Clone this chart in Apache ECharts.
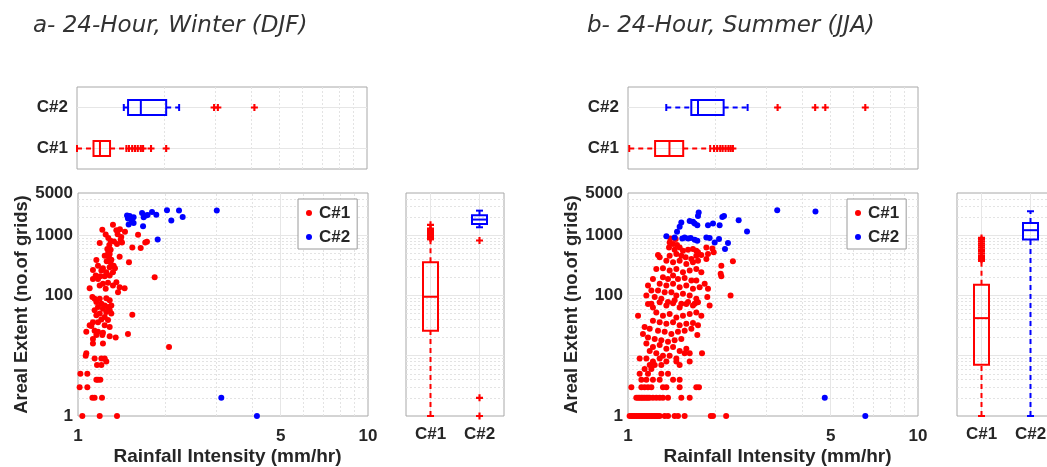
<!DOCTYPE html>
<html><head><meta charset="utf-8">
<script src="https://cdn.jsdelivr.net/npm/echarts@6/dist/echarts.min.js"></script>
<style>html,body{margin:0;padding:0;background:#fff}#c{width:1047px;height:467px}</style>
</head><body><div id="c"></div>
<script>
// ---------------- data ----------------
const categories = ['C#1', 'C#2'];
const panelTitles = ['a- 24-Hour, Winter (DJF)', 'b- 24-Hour, Summer (JJA)'];
const xName = 'Rainfall Intensity (mm/hr)';
const yName = 'Areal Extent (no.of grids)';
const extraXTicks = [5];

// scatter points [rainfall intensity, areal extent]
const winterC1 = [
[1.32,1480],[1.213,1225],[1.356,1209],[1.395,1256],[1.452,1135],[1.246,1026],[1.272,893],[1.37,1038],[1.41,927],[1.296,807],[1.331,787],[1.403,838],[1.188,738],[1.282,684],[1.363,711],[1.418,757],[1.611,1012],[1.539,626],[1.706,757],[1.729,777],[1.645,611],
[1.262,588],[1.296,573],[1.272,518],[1.286,486],[1.236,456],[1.279,428],[1.392,439],[1.303,392],[1.157,387],[1.256,368],[1.293,354],[1.499,354],[1.327,312],[1.172,312],[1.219,282],[1.286,293],[1.341,282],[1.126,265],[1.204,258],[1.252,243],[1.32,243],[1.151,214],[1.194,208],[1.236,208],[1.286,214],[1.838,200],[1.126,188],[1.172,188],[1.356,166],[1.219,156],[1.269,162],[1.188,146],[1.32,146],[1.392,137],[1.448,132],[1.097,132],[1.246,129],[1.374,113],
[1.121,94],[1.141,88],[1.188,88],[1.252,90],[1.286,83],[1.157,78],[1.204,73],[1.236,68],[1.269,64],[1.303,68],[1.172,64],[1.219,60],[1.286,57],[1.141,57],[1.252,53],[1.303,50],[1.188,50],[1.157,47],[1.236,44],[1.539,48],[1.204,40],[1.269,39],[1.126,36],[1.172,36],[1.097,32],[1.112,31],[1.236,32],[1.286,30],[1.068,25],[1.141,26],[1.172,25],[1.219,24],[1.487,23],[1.157,22],[1.213,22],[1.286,21],[1.349,20],[1.126,19],[1.219,16],[1.126,16],[2.06,14],
[1.068,11],[1.063,10],[1.141,9],[1.204,9],[1.236,9],[1.163,7],[1.252,8],[1.204,7],[1.019,5],[1.077,5],[1.157,4],[1.172,4],[1.194,4],[1.013,3],[1.077,3],[1.121,2],[1.141,2],[1.21,2],[1.035,1],[1.188,1],[1.363,1]
];
const winterC2 = [
[1.476,2110],[1.487,1883],[1.507,2085],[1.523,1883],[1.495,1500],[1.535,1702],[1.555,1597],[1.555,1977],[1.663,2335],[1.684,1977],[1.676,1407],[1.715,2110],[1.738,2160],[1.8,2425],[1.862,2185],[2.027,2583],[2.098,1745],[2.23,2560],[2.296,2005],[1.883,849],[3.01,2560],[3.12,2],[4.14,1]
];
const summerC1 = [
[1.013,1],[1.027,1],[1.04,1],[1.054,1],[1.068,1],[1.083,1],[1.097,1],[1.112,1],[1.126,1],[1.141,1],[1.157,1],[1.172,1],[1.188,1],[1.204,1],[1.219,1],[1.236,1],[1.252,1],[1.269,1],[1.286,1],[1.338,1],[1.374,1],[1.448,1],[1.487,1],[1.568,1],[1.93,1],[1.964,1],[2.18,1],
[1.068,2],[1.083,2],[1.097,2],[1.112,2],[1.126,2],[1.141,2],[1.157,2],[1.172,2],[1.188,2],[1.219,2],[1.252,2],[1.286,2],[1.32,2],[1.374,2],[1.527,2],[1.632,2],
[1.027,3],[1.112,3],[1.141,3],[1.172,3],[1.204,3],[1.32,3],[1.356,3],[1.507,3],[1.72,3],[1.757,3],
[1.112,4],[1.157,4],[1.219,4],[1.286,4],[1.43,4],[1.507,4],
[1.097,5],[1.172,5],[1.303,5],[1.374,5],[1.204,6],[1.141,6],
[1.236,7],[1.188,7],[1.303,7],[1.507,7],[1.468,8],[1.632,8],[1.219,8],[1.356,8],[1.097,9],[1.157,9],[1.286,9],[1.468,9],
[1.252,11],[1.32,10],[1.392,10],[1.568,11],[1.632,11],[1.80,11],[1.188,12],
[1.157,16],[1.219,14],[1.286,15],[1.356,13],[1.43,14],[1.507,12],[1.589,13],
[1.126,23],[1.172,20],[1.236,19],[1.303,18],[1.374,17],[1.448,18],[1.527,19],
[1.141,30],[1.188,28],[1.269,26],[1.338,25],[1.411,23],[1.487,25],[1.568,26],[1.654,28],[1.734,22],
[1.219,38],[1.286,36],[1.356,34],[1.43,36],[1.507,32],[1.589,34],[1.675,35],[1.743,32],
[1.083,46],[1.252,52],[1.32,46],[1.392,49],[1.468,43],[1.547,46],[1.632,49],[1.72,52],[1.79,46],
[1.172,72],[1.219,63],[1.286,77],[1.356,68],[1.43,74],[1.507,63],[1.589,72],[1.675,68],[1.743,77],
[1.157,100],[1.236,94],[1.303,88],[1.374,78],[1.448,83],[1.527,73],[1.611,78],[1.698,73],[1.204,73],[1.912,68],
[1.172,146],[1.204,121],[1.269,121],[1.338,113],[1.411,113],[1.468,100],[1.547,107],[1.632,100],[1.72,88],[1.877,94],[2.258,100],
[1.219,188],[1.286,156],[1.356,146],[1.43,156],[1.507,137],[1.589,146],[1.675,129],[1.766,137],[1.887,129],
[1.32,200],[1.374,188],[1.43,214],[1.487,188],[1.568,194],[1.654,177],[1.72,177],[1.838,156],[2.087,228],[2.098,208],
[1.252,275],[1.32,282],[1.392,258],[1.468,275],[1.547,243],[1.632,258],[1.72,275],[1.79,243],
[1.356,377],[1.43,354],[1.507,377],[1.589,332],[1.675,354],[1.743,377],[1.863,402],[2.098,312],[2.3,368],
[1.269,467],[1.286,428],[1.392,456],[1.468,486],[1.527,456],[1.58,428],[1.654,402],[1.72,456],[1.79,467],[1.887,486],
[1.392,757],[1.43,711],[1.476,684],[1.507,626],[1.385,626],[1.448,573],[1.547,551],[1.611,573],[1.675,588],[1.72,551],[1.743,518],[1.863,626],[1.954,603],[1.975,518],[1.40,880],[1.46,860]
];
const summerC2 = [
[1.753,2364],[1.743,2083],[1.632,1722],[1.675,1660],[1.698,1556],[1.734,1462],[1.527,1618],[1.507,1372],[1.476,1135],[1.356,963],[1.448,916],[1.539,881],[1.568,916],[1.611,881],[1.645,893],[1.698,838],[1.734,807],[1.863,916],[1.912,893],[1.99,757],[2.06,861],[1.887,1462],[1.964,1556],[2.07,1462],[2.115,2005],[2.143,2083],[2.408,1767],[2.573,1149],[2.212,738],[2.16,588],[3.27,2583],[4.43,2455],[4.77,2],[6.58,1]
];

// box statistics [lower whisker, q1, median, q3, upper whisker] for C#1, C#2
const winterIntensityBox = [[1.0,1.14,1.20,1.30,1.48],[1.45,1.50,1.66,2.03,2.25]];
const winterIntensityOut = [[1.51,1.55,1.585,1.62,1.66,1.69,1.80,2.03],[2.97,3.06,4.09]];
const winterExtentBox = [[1,26,95,355,850],[1350,1535,1812,2140,2550]];
const winterExtentOut = [[880,920,960,1000,1050,1100,1160,1220,1290,1480],[815,2,1]];
const summerIntensityBox = [[1.01,1.24,1.39,1.55,1.92],[1.355,1.653,1.743,2.137,2.585]];
const summerIntensityOut = [[1.98,2.03,2.08,2.12,2.17,2.22,2.26,2.30],[3.28,4.42,4.79,6.58]];
const summerExtentBox = [[1,7.1,42,150,373],[1,849,1208,1597,2490]];
const summerExtentOut = [[390,420,450,490,530,570,620,670,720,780,840,900],[]];

// grid line values
const minorX = [2,3,4,6,7,8,9];
const majorX = [5];
const minorY = [2,3,4,5,6,7,8,9,20,30,40,50,60,70,80,90,200,300,400,500,600,700,800,900,2000,3000,4000];
const majorY = [10,100,1000];

// ---------------- styling ----------------
const RED = '#ff0000', BLUE = '#0000ff';
const boxColors = [RED, BLUE];
const F = '"Liberation Sans", Arial, sans-serif';
const TXT = '#262626';
const FRAME = '#a8a8a8';
const MINOR = {color: '#e3e3e3', type: [2, 2], width: 1};
const MAJOR = {color: '#e6e6e6', type: 'solid', width: 1};
const PLUS = 'path://M0,2.1H6V3.9H0Z M2.1,0H3.9V6H2.1Z';

const panels = [
  {title: panelTitles[0], titleX: 33, top: {left: 77, w: 290}, sc: {left: 78, w: 290}, vb: {left: 406, w: 98}, legendX: 298,
   c1: winterC1, c2: winterC2, ib: winterIntensityBox, io: winterIntensityOut, eb: winterExtentBox, eo: winterExtentOut},
  {title: panelTitles[1], titleX: 587, top: {left: 628, w: 290}, sc: {left: 628, w: 290}, vb: {left: 957, w: 98}, legendX: 847,
   c1: summerC1, c2: summerC2, ib: summerIntensityBox, io: summerIntensityOut, eb: summerExtentBox, eo: summerExtentOut}
];

function boxItem(horizontal) {
  return function (params, api) {
    const c = api.value(0);
    const v = [1,2,3,4,5].map(i => api.value(i));
    const p = v.map(val => horizontal ? api.coord([val, c]) : api.coord([c, val]));
    const color = boxColors[c];
    const hw = 7.5, cw = 3.5;
    const solid = {stroke: color, lineWidth: 2, fill: 'none'};
    const dashed = {stroke: color, lineWidth: 2, fill: 'none', lineDash: [5, 4]};
    const seg = (a, b, style) => ({type: 'line', shape: {x1: a[0], y1: a[1], x2: b[0], y2: b[1]}, style: style});
    const cross = (q, d) => horizontal ? [[q[0], q[1] - d], [q[0], q[1] + d]] : [[q[0] - d, q[1]], [q[0] + d, q[1]]];
    const ch = [];
    ch.push(seg(p[0], p[1], dashed));
    ch.push(seg(p[3], p[4], dashed));
    let ab = cross(p[0], cw); ch.push(seg(ab[0], ab[1], solid));
    ab = cross(p[4], cw); ch.push(seg(ab[0], ab[1], solid));
    const rect = horizontal
      ? {x: p[1][0], y: p[1][1] - hw, width: p[3][0] - p[1][0], height: 2 * hw}
      : {x: p[1][0] - hw, y: p[3][1], width: 2 * hw, height: p[1][1] - p[3][1]};
    ch.push({type: 'rect', shape: rect, style: solid});
    ab = cross(p[2], hw); ch.push(seg(ab[0], ab[1], solid));
    return {type: 'group', children: ch};
  };
}

const grids = [], xAxes = [], yAxes = [], series = [], titles = [], legends = [];
const bold17 = {color: TXT, fontFamily: F, fontWeight: 'bold', fontSize: 17};
const gridBase = {show: true, borderColor: FRAME, borderWidth: 1, backgroundColor: 'transparent', containLabel: false, outerBoundsMode: 'none'};
const hidden = {axisLine: {show: false}, axisTick: {show: false}, splitLine: {show: false}};

function gridLines(xi, yi, data) {
  series.push({type: 'line', xAxisIndex: xi, yAxisIndex: yi, data: [], z: 1, silent: true,
    markLine: {silent: true, z: 1, symbol: ['none', 'none'], label: {show: false}, animation: false, data: data}});
}

panels.forEach((P, k) => {
  const g0 = grids.length;
  grids.push(Object.assign({left: P.top.left, top: 87, width: P.top.w, height: 82}, gridBase));
  grids.push(Object.assign({left: P.sc.left, top: 193, width: P.sc.w, height: 223}, gridBase));
  grids.push(Object.assign({left: P.vb.left, top: 193, width: P.vb.w, height: 223}, gridBase));
  // axes: top box
  xAxes.push(Object.assign({type: 'log', gridIndex: g0, min: 1, max: 10, axisLabel: {show: false}}, hidden));
  yAxes.push(Object.assign({type: 'category', gridIndex: g0, data: categories, axisLabel: Object.assign({margin: 9}, bold17)}, hidden));
  // scatter
  xAxes.push(Object.assign({type: 'log', gridIndex: g0 + 1, min: 1, max: 10,
    axisLabel: Object.assign({margin: 12, showMinLabel: true, showMaxLabel: true, formatter: v => String(Math.round(v))}, bold17),
    name: xName, nameLocation: 'middle', nameGap: 31,
    nameTextStyle: {color: TXT, fontFamily: F, fontWeight: 'bold', fontSize: 19, padding: [0, 0, 0, 9]}}, hidden));
  yAxes.push(Object.assign({type: 'log', gridIndex: g0 + 1, min: 1, max: 5000,
    axisLabel: Object.assign({margin: 5, showMinLabel: true, showMaxLabel: true, hideOverlap: false,
      formatter: v => { const r = Math.round(v); return r === 10 ? '' : String(r); }}, bold17),
    name: yName, nameLocation: 'middle', nameGap: 45, nameRotate: 90,
    nameTextStyle: {color: TXT, fontFamily: F, fontWeight: 'bold', fontSize: 18.3}}, hidden));
  // vertical box
  xAxes.push(Object.assign({type: 'category', gridIndex: g0 + 2, data: categories, axisLabel: Object.assign({margin: 10}, bold17)}, hidden));
  yAxes.push(Object.assign({type: 'log', gridIndex: g0 + 2, min: 1, max: 5000, axisLabel: {show: false}}, hidden));

  // grid lines
  gridLines(g0, g0, minorX.concat(majorX).map(v => ({xAxis: v, lineStyle: MINOR}))
    .concat(categories.map(c => ({yAxis: c, lineStyle: MAJOR}))));
  gridLines(g0 + 1, g0 + 1, minorX.map(v => ({xAxis: v, lineStyle: MINOR}))
    .concat(majorX.map(v => ({xAxis: v, lineStyle: MAJOR})))
    .concat(minorY.map(v => ({yAxis: v, lineStyle: MINOR})))
    .concat(majorY.map(v => ({yAxis: v, lineStyle: MAJOR}))));
  gridLines(g0 + 2, g0 + 2, minorY.map(v => ({yAxis: v, lineStyle: MINOR}))
    .concat(majorY.map(v => ({yAxis: v, lineStyle: MAJOR})))
    .concat(categories.map(c => ({xAxis: c, lineStyle: MAJOR}))));

  // top horizontal box
  series.push({type: 'custom', name: 'hbox' + k, xAxisIndex: g0, yAxisIndex: g0, z: 10, silent: true,
    renderItem: boxItem(true), encode: {x: [1,2,3,4,5], y: 0},
    data: P.ib.map((s, i) => [i].concat(s))});
  series.push({type: 'scatter', name: 'hout' + k, xAxisIndex: g0, yAxisIndex: g0, z: 11, symbol: PLUS, symbolSize: 7,
    itemStyle: {color: RED, opacity: 1}, data: [].concat(...P.io.map((arr, i) => arr.map(v => [v, i])))});
  // scatter
  series.push({type: 'scatter', name: 'C#1', xAxisIndex: g0 + 1, yAxisIndex: g0 + 1, z: 10, symbol: 'circle', symbolSize: 6,
    itemStyle: {color: RED, opacity: 1}, data: P.c1});
  series.push({type: 'scatter', name: 'C#2', xAxisIndex: g0 + 1, yAxisIndex: g0 + 1, z: 10, symbol: 'circle', symbolSize: 6,
    itemStyle: {color: BLUE, opacity: 1}, data: P.c2});
  // vertical box
  series.push({type: 'custom', name: 'vbox' + k, xAxisIndex: g0 + 2, yAxisIndex: g0 + 2, z: 10, silent: true,
    renderItem: boxItem(false), encode: {x: 0, y: [1,2,3,4,5]},
    data: P.eb.map((s, i) => [i].concat(s))});
  series.push({type: 'scatter', name: 'vout' + k, xAxisIndex: g0 + 2, yAxisIndex: g0 + 2, z: 11, symbol: PLUS, symbolSize: 7,
    itemStyle: {color: RED, opacity: 1}, data: [].concat(...P.eo.map((arr, i) => arr.map(v => [i, v])))});

  titles.push({text: P.title, left: P.titleX, top: 15, padding: 0,
    textStyle: {fontFamily: '"DejaVu Sans", sans-serif', fontStyle: 'italic', fontWeight: 'normal', fontSize: 23, color: '#333333'}});
  legends.push({data: categories, orient: 'vertical', left: P.legendX, top: 199, padding: [4, 7, 2, 8],
    itemWidth: 10, itemHeight: 6, itemGap: 4, icon: 'circle', selectedMode: false,
    backgroundColor: '#ffffff', borderColor: '#9a9a9a', borderWidth: 1, borderRadius: 0,
    textStyle: {color: TXT, fontFamily: F, fontWeight: 'bold', fontSize: 17, lineHeight: 20}});
});

const chart = echarts.init(document.getElementById('c'), null, {renderer: 'canvas'});
chart.setOption({
  animation: false,
  backgroundColor: '#ffffff',
  title: titles, legend: legends, grid: grids, xAxis: xAxes, yAxis: yAxes, series: series
});

// extra x tick label(s) at 5 on the log axes
const extra = [];
[1, 4].forEach(ai => {
  const yb = chart.convertToPixel({yAxisIndex: ai}, 1);
  extraXTicks.forEach(t => {
    const px = chart.convertToPixel({xAxisIndex: ai}, t);
    extra.push({type: 'text', x: px, y: yb + 12, silent: true,
      style: {text: String(t), align: 'center', verticalAlign: 'top', fill: TXT, fontFamily: F, fontWeight: 'bold', fontSize: 17}});
  });
});
chart.setOption({graphic: extra});
</script></body></html>
